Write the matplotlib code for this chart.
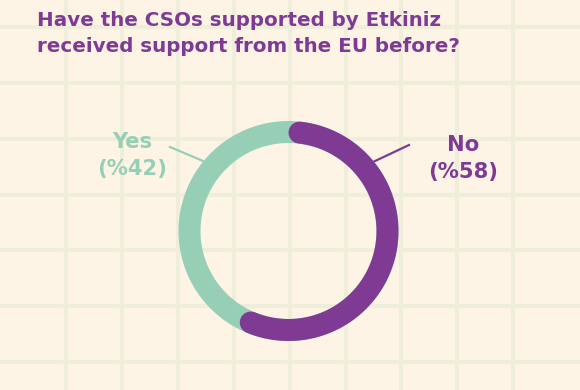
import numpy as np
import matplotlib
matplotlib.use("Agg")
import matplotlib.pyplot as plt

title_lines = ["Have the CSOs supported by Etkiniz", "received support from the EU before?"]
categories = ["Yes", "No"]
values = [42, 58]
colors = {"Yes": "#97CFB6", "No": "#7F3B94"}

BG = "#FEF4E5"
GRID = "#EEEEDB"
FONT = ["DejaVu Sans"]

W, H = 580, 390
fig = plt.figure(figsize=(W / 100, H / 100), dpi=100, facecolor=BG)

# background axes in pixel coordinates
bg = fig.add_axes([0, 0, 1, 1])
bg.set_xlim(0, W)
bg.set_ylim(H, 0)
bg.set_facecolor(BG)
bg.axis("off")
for x in 66 + 55.9 * np.arange(9):
    bg.plot([x, x], [0, H], color=GRID, lw=3.0, zorder=0)
for y in 27 + 55.85 * np.arange(7):
    bg.plot([0, W], [y, y], color=GRID, lw=3.0, zorder=0)

# title
for i, line in enumerate(title_lines):
    bg.text(37, 26 + 26 * i, line, family=FONT, fontweight="bold", fontsize=14.3,
            color=colors["No"], ha="left", va="baseline")

# donut axes
cx, cy, R = 288.5, 231, 110
ax = fig.add_axes([(cx - R) / W, (H - cy - R) / H, 2 * R / W, 2 * R / H])
ax.set_xlim(-1, 1)
ax.set_ylim(-1, 1)
ax.axis("off")
ax.patch.set_alpha(0)

ring_w_px = 22
r_mid = (R - ring_w_px / 2) / R
lw_pt = ring_w_px * 72 / 100

t = np.linspace(0, 2 * np.pi, 400)
ax.plot(r_mid * np.cos(t), r_mid * np.sin(t), color=colors["Yes"], lw=lw_pt,
        solid_capstyle="butt", clip_on=False)

total = sum(values)
no_frac = values[1] / total
cap_deg = np.degrees((ring_w_px / 2) / (R - ring_w_px / 2))
a0 = 90 - cap_deg
a1 = 90 - 360 * no_frac + cap_deg
ta = np.radians(np.linspace(a0, a1, 300))
ax.plot(r_mid * np.cos(ta), r_mid * np.sin(ta), color=colors["No"], lw=lw_pt,
        solid_capstyle="round", clip_on=False)

# leader lines and labels
bg.plot([170, 203], [147, 161], color=colors["Yes"], lw=1.6)
bg.plot([373, 409], [162, 145], color=colors["No"], lw=1.6)

label_pos = {"Yes": (132, 148), "No": (463, 151)}
for cat, v in zip(categories, values):
    x, y = label_pos[cat]
    bg.text(x, y, cat, family=FONT, fontweight="bold", fontsize=15.2,
            color=colors[cat], ha="center", va="baseline")
    bg.text(x, y + 27, f"(%{v})", family=FONT, fontweight="bold", fontsize=15.2,
            color=colors[cat], ha="center", va="baseline")

fig.savefig("out.png", dpi=100, facecolor=BG)
